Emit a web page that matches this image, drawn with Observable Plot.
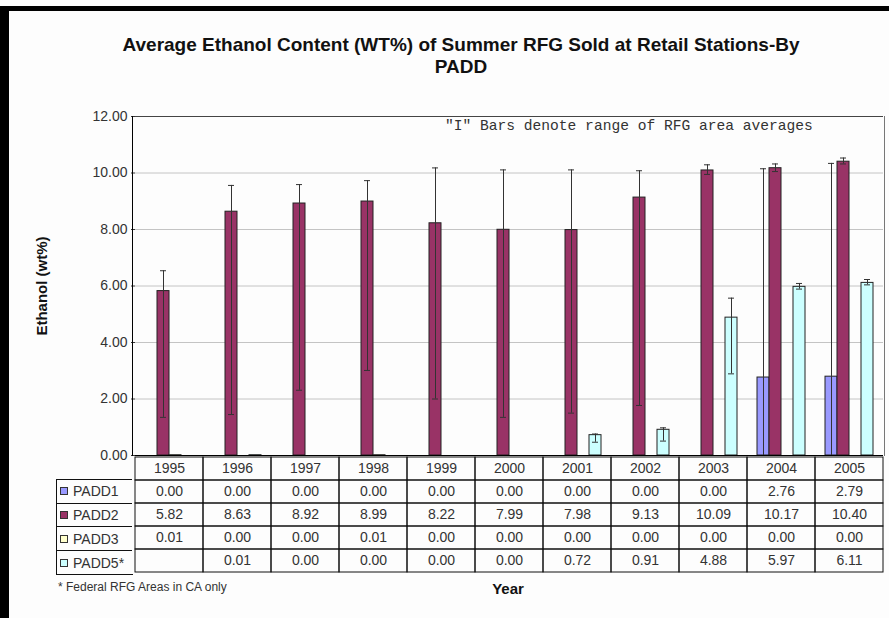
<!DOCTYPE html>
<html><head><meta charset="utf-8">
<script src="https://cdn.jsdelivr.net/npm/d3@7"></script>
<script src="https://cdn.jsdelivr.net/npm/@observablehq/plot@0.6"></script>
<style>
html,body{margin:0;padding:0;background:#fdfdfd;}
#root{position:relative;width:889px;height:618px;overflow:hidden;background:#fdfdfd;font-family:"Liberation Sans",Arial,sans-serif;color:#222;}
#root svg{overflow:visible;}
.abs{position:absolute;}
</style></head><body><div id="root"></div>
<script>
// ---- data ----
const years = [1995, 1996, 1997, 1998, 1999, 2000, 2001, 2002, 2003, 2004, 2005];
const seriesNames = ["PADD1", "PADD2", "PADD3", "PADD5"];
const tableLabels = ["PADD1", "PADD2", "PADD3", "PADD5*"];
const seriesColors = ["#9999ff", "#993366", "#ffffcc", "#ccffff"];

const padd1 = [0.00, 0.00, 0.00, 0.00, 0.00, 0.00, 0.00, 0.00, 0.00, 2.76, 2.79];
const padd2 = [5.82, 8.63, 8.92, 8.99, 8.22, 7.99, 7.98, 9.13, 10.09, 10.17, 10.40];
const padd3 = [0.01, 0.00, 0.00, 0.01, 0.00, 0.00, 0.00, 0.00, 0.00, 0.00, 0.00];
const padd5 = [null, 0.01, 0.00, 0.00, 0.00, 0.00, 0.72, 0.91, 4.88, 5.97, 6.11];

// "I" bars: range of RFG area averages
const padd1Low  = [null, null, null, null, null, null, null, null, null, 0.00, 0.00];
const padd1High = [null, null, null, null, null, null, null, null, null, 10.15, 10.34];
const padd2Low  = [1.35, 1.45, 2.31, 3.01, 2.00, 1.35, 1.50, 1.77, 9.95, 10.05, 10.32];
const padd2High = [6.54, 9.56, 9.59, 9.73, 10.18, 10.11, 10.11, 10.08, 10.29, 10.32, 10.53];
const padd5Low  = [null, null, null, null, null, null, 0.47, 0.51, 2.89, 5.89, 6.04];
const padd5High = [null, null, null, null, null, null, 0.76, 0.98, 5.57, 6.09, 6.23];

const yTicks = [0, 2, 4, 6, 8, 10, 12];

const titleLines = ["Average Ethanol Content (WT%) of Summer RFG Sold at Retail Stations-By", "PADD"];
const yLabel = "Ethanol (wt%)";
const xLabel = "Year";
const noteText = "\"I\" Bars denote range of RFG area averages";
const footnote = "* Federal RFG Areas in CA only";

// ---- build tables ----
const values = [padd1, padd2, padd3, padd5];
const lows = [padd1Low, padd2Low, null, padd5Low];
const highs = [padd1High, padd2High, null, padd5High];

const bars = [];
const errs = [];
seriesNames.forEach((s, j) => years.forEach((yr, i) => {
  const v = values[j][i];
  if (v != null && v > 0) bars.push({year: yr, series: s, value: v});
  if (lows[j] && lows[j][i] != null) errs.push({year: yr, series: s, lo: lows[j][i], hi: highs[j][i]});
}));

const root = document.getElementById("root");
const FONT = "Liberation Sans, Arial, sans-serif";

// ---- chart ----
const chart = Plot.plot({
  width: 889, height: 460,
  marginTop: 116, marginBottom: 5, marginLeft: 132, marginRight: 4,
  style: {fontFamily: FONT, fontSize: "14px", color: "#333", background: "transparent"},
  fx: {domain: years, padding: 0, axis: null},
  x: {domain: seriesNames, paddingInner: 0, paddingOuter: 0.65, axis: null},
  y: {domain: [0, 12], axis: null},
  color: {domain: seriesNames, range: seriesColors},
  marks: [
    Plot.ruleY(yTicks.filter(t => t > 0 && t < 12), {stroke: "#c4c4c4"}),
    Plot.ruleY([12], {stroke: "#444"}),
    Plot.barY(bars, {fx: "year", x: "series", y: "value", fill: "series", stroke: "#222", strokeWidth: 1}),
    Plot.ruleX(errs, {fx: "year", x: "series", y1: "lo", y2: "hi", stroke: "#333"}),
    Plot.tickY(errs, {fx: "year", x: "series", y: "hi", stroke: "#333", inset: 3}),
    Plot.tickY(errs, {fx: "year", x: "series", y: "lo", stroke: "#333", inset: 3}),
    Plot.ruleY([0], {stroke: "#000"}),
    Plot.axisY({ticks: yTicks, tickFormat: d3.format(".2f"), tickSize: 4, tickPadding: 4, fontSize: 14, label: null, anchor: "left"})
  ]
});
chart.style.position = "absolute";
chart.style.left = "0px";
chart.style.top = "0px";
root.appendChild(chart);

// plot-area side borders
function line(x, y, w, h, color) {
  const d = document.createElement("div");
  d.className = "abs";
  Object.assign(d.style, {left: x + "px", top: y + "px", width: w + "px", height: h + "px", background: color});
  root.appendChild(d);
  return d;
}
line(132, 116, 1, 340, "#000");
line(884, 116, 1, 340, "#777");

// ---- data table ----
const rowKeys = ["hdr", ...tableLabels];
const cells = [];
years.forEach((yr, i) => {
  cells.push({year: yr, row: "hdr", text: String(yr)});
  tableLabels.forEach((lab, j) => {
    const v = values[j][i];
    cells.push({year: yr, row: lab, text: v == null ? "" : v.toFixed(2)});
  });
});
const table = Plot.plot({
  width: 889, height: 120,
  marginTop: 0, marginBottom: 1, marginLeft: 132, marginRight: 4,
  style: {fontFamily: FONT, fontSize: "14px", color: "#333", background: "transparent"},
  x: {domain: years, padding: 0, axis: null},
  y: {domain: rowKeys, padding: 0, axis: null},
  marks: [
    Plot.cell(cells, {x: "year", y: "row", fill: "none", stroke: "#111", inset: 0}),
    Plot.text(cells, {x: "year", y: "row", text: "text", fill: "#333", fontSize: 14})
  ]
});
table.style.position = "absolute";
table.style.left = "0px";
table.style.top = "455px";
root.appendChild(table);

// legend column of the table
const rowH = 119 / rowKeys.length;
tableLabels.forEach((lab, j) => {
  const d = document.createElement("div");
  d.className = "abs";
  Object.assign(d.style, {
    left: "56px", top: (455 + rowH * (j + 1)) + "px", width: "76px", height: rowH + "px",
    borderLeft: "1px solid #111", borderTop: "1px solid #111", boxSizing: "border-box",
    display: "flex", alignItems: "center", fontSize: "14px", color: "#333"
  });
  const sw = document.createElement("span");
  Object.assign(sw.style, {display: "inline-block", width: "6px", height: "6px", border: "1px solid #333",
    background: seriesColors[j], marginLeft: "3px", marginRight: "5px"});
  d.appendChild(sw);
  d.appendChild(document.createTextNode(lab));
  root.appendChild(d);
});
line(56, 455 + rowH * rowKeys.length - 0.5, 77, 1, "#111");

// ---- texts ----
function text(str, css) {
  const d = document.createElement("div");
  d.className = "abs";
  d.textContent = str;
  Object.assign(d.style, {whiteSpace: "nowrap"}, css);
  root.appendChild(d);
  return d;
}
text(titleLines[0], {left: "0px", width: "922px", textAlign: "center", top: "34px", fontSize: "19px", fontWeight: "bold", color: "#111"});
text(titleLines[1], {left: "0px", width: "922px", textAlign: "center", top: "56px", fontSize: "19px", fontWeight: "bold", color: "#111"});
text(noteText, {left: "445px", top: "118px", fontFamily: "Liberation Mono, Courier New, monospace", fontSize: "14.6px", color: "#333"});
const yl = text(yLabel, {left: "41px", top: "286px", fontSize: "15px", fontWeight: "bold", color: "#111",
  transform: "translate(-50%,-50%) rotate(-90deg)"});
text(xLabel, {left: "508px", top: "580px", transform: "translateX(-50%)", fontSize: "15px", fontWeight: "bold", color: "#111"});
text(footnote, {left: "58px", top: "580px", fontSize: "12px", color: "#333"});

// ---- outer black frame (top and left) ----
const ns = "http://www.w3.org/2000/svg";
const fr = document.createElementNS(ns, "svg");
fr.setAttribute("width", 889); fr.setAttribute("height", 618);
fr.style.position = "absolute"; fr.style.left = "0px"; fr.style.top = "0px";
fr.innerHTML = '<rect x="7" y="6" width="882" height="5" fill="#000"/><rect x="0" y="6" width="9" height="612" fill="#000"/>';
root.appendChild(fr);
</script>
</body></html>
